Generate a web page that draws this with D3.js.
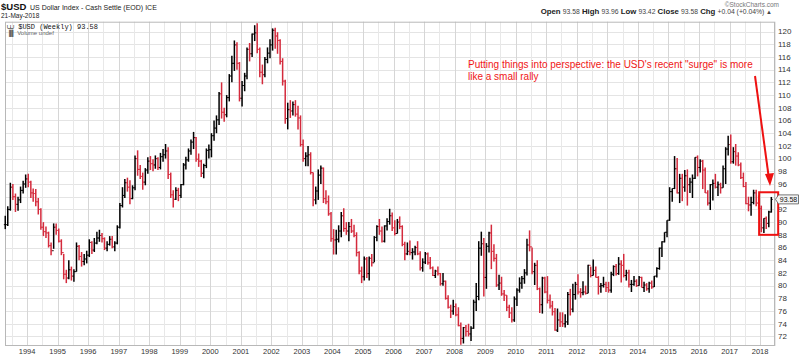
<!DOCTYPE html>
<html><head><meta charset="utf-8">
<script src="https://cdn.jsdelivr.net/npm/d3@7"></script>
<style>body{margin:0;background:#fff}svg{display:block}text{font-family:"Liberation Sans",Arial,sans-serif}</style>
</head><body>
<svg id="c" width="800" height="356"></svg>
<script>
// ---- data: monthly $USD (weekly chart condensed), Apr 1993 .. May 2018 ----
const firstYear = 1993, firstMonth = 3; // April 1993
const high = [
 91.0, 92.5, 96.2, 96.0, 94.5, 94.0, 95.6, 96.5, 97.5,
 97.6, 96.5, 95.3, 95.2, 93.8, 92.2, 90.0, 89.3, 88.5, 86.8, 89.8, 89.8,
 89.0, 87.3, 85.0, 82.5, 84.0, 83.0, 82.6, 86.8, 86.4, 85.3, 85.0, 85.5,
 87.3, 87.0, 87.5, 88.5, 88.8, 88.3, 87.6, 87.0, 87.8, 87.8, 87.0, 89.5,
 93.0, 95.5, 96.8, 97.0, 96.6, 95.8, 100.5, 101.3, 99.0, 97.8, 98.5, 100.2,
 100.4, 99.9, 100.5, 100.2, 100.9, 101.5, 102.3, 101.8, 97.8, 95.0, 95.5, 95.4,
 96.0, 99.3, 100.3, 101.6, 103.0, 104.2, 103.4, 100.8, 99.8, 99.2, 101.6, 102.2,
 104.0, 106.0, 106.8, 110.5, 112.0, 108.0, 110.0, 113.3, 116.2, 118.6, 118.3, 115.2,
 112.2, 113.5, 117.5, 118.2, 119.7, 121.0, 121.3, 117.5, 114.8, 116.0, 117.5, 118.8,
 120.5, 120.6, 119.9, 118.8, 115.8, 112.4, 108.8, 109.2, 109.0, 109.2, 108.3, 106.8,
 103.0, 101.0, 102.0, 101.0, 97.8, 95.6, 98.3, 98.9, 98.6, 95.0, 94.2, 91.6,
 88.9, 88.8, 89.5, 91.6, 92.2, 90.0, 90.0, 90.5, 89.6, 88.4, 85.4, 83.0,
 84.6, 84.5, 84.6, 85.0, 87.8, 89.5, 90.5, 89.3, 89.5, 90.6, 92.1, 91.5,
 90.3, 90.5, 90.9, 89.5, 86.9, 86.8, 87.1, 85.9, 86.3, 87.0, 85.4, 84.3,
 85.3, 85.2, 84.5, 83.0, 82.5, 83.0, 82.0, 82.0, 80.8, 78.5, 77.0, 77.8,
 77.2, 76.6, 74.2, 73.5, 73.8, 74.0, 73.6, 77.8, 80.4, 87.0, 88.5, 87.5,
 86.7, 88.5, 89.6, 86.5, 85.0, 81.7, 81.4, 79.3, 78.5, 77.0, 76.6, 78.3,
 79.6, 81.3, 81.5, 82.6, 87.4, 88.7, 86.0, 83.6, 84.0, 79.7, 81.4, 81.4,
 81.5, 78.6, 77.6, 76.5, 76.4, 75.8, 75.8, 75.5, 79.0, 79.5, 80.3, 80.6,
 81.8, 79.6, 80.7, 80.0, 83.3, 83.0, 84.1, 83.0, 81.5, 80.4, 81.4, 80.6,
 80.6, 82.2, 83.2, 83.4, 84.5, 84.0, 85.0, 82.5, 82.5, 80.9, 81.5, 81.0,
 81.5, 81.4, 80.6, 80.4, 80.6, 80.8, 81.5, 82.9, 86.0, 87.0, 88.4, 90.3,
 95.5, 95.3, 100.4, 100.1, 97.6, 97.6, 98.2, 98.3, 97.0, 97.5, 100.2, 100.5,
 99.9, 99.8, 98.6, 95.0, 96.0, 96.7, 97.6, 96.4, 96.2, 98.9, 101.8, 103.6,
 103.8, 101.8, 102.3, 101.0, 99.4, 97.8, 96.3, 94.0, 94.0, 95.1, 95.1, 94.2,
 92.6, 90.6, 90.9, 91.8, 93.96
];
const low = [
 88.9, 89.4, 91.8, 93.5, 91.6, 91.8, 93.0, 94.5, 95.4,
 95.5, 93.8, 93.2, 92.5, 91.2, 88.8, 87.8, 87.5, 86.0, 84.8, 85.8, 88.0,
 86.8, 84.8, 81.0, 80.4, 81.0, 80.8, 80.6, 82.2, 84.0, 83.0, 83.2, 83.5,
 84.5, 85.0, 85.3, 86.5, 86.9, 86.8, 85.6, 85.4, 86.3, 85.9, 85.4, 86.5,
 89.0, 92.3, 93.8, 94.8, 92.8, 93.6, 95.0, 97.3, 96.8, 95.1, 95.8, 97.6,
 98.2, 98.0, 98.4, 98.2, 98.3, 99.5, 100.0, 96.8, 93.8, 92.3, 93.5, 93.3,
 93.8, 95.8, 98.3, 99.5, 100.6, 101.5, 99.5, 98.7, 97.1, 96.9, 98.5, 100.0,
 100.2, 102.8, 104.0, 105.3, 106.3, 105.8, 106.5, 109.0, 112.0, 113.8, 114.0, 109.0,
 108.2, 110.6, 112.5, 115.3, 116.0, 118.5, 116.6, 112.8, 111.7, 112.8, 115.0, 115.8,
 117.0, 117.3, 116.5, 114.8, 111.5, 105.5, 104.6, 106.4, 106.8, 106.6, 104.6, 101.9,
 99.5, 98.8, 98.8, 97.5, 92.5, 92.8, 93.5, 96.0, 93.0, 92.8, 91.0, 86.9,
 84.9, 84.9, 86.8, 87.6, 88.5, 88.0, 87.0, 88.3, 87.6, 84.6, 81.8, 80.4,
 80.8, 81.2, 80.8, 83.0, 83.7, 87.0, 88.0, 86.8, 86.8, 88.7, 89.6, 88.6,
 87.9, 88.2, 88.9, 86.2, 84.0, 84.8, 84.8, 84.1, 84.8, 84.8, 82.4, 82.2,
 83.4, 83.3, 82.6, 81.5, 81.2, 81.6, 80.0, 80.0, 77.8, 76.4, 74.9, 75.4,
 75.2, 73.6, 70.7, 70.9, 72.0, 72.0, 71.3, 73.2, 76.0, 77.7, 84.7, 78.3,
 79.5, 85.2, 82.6, 83.8, 79.8, 79.3, 78.4, 77.6, 76.0, 74.9, 74.2, 74.3,
 76.8, 78.9, 79.5, 80.3, 81.6, 85.4, 81.8, 80.1, 79.3, 75.7, 75.6, 78.8,
 77.2, 76.4, 75.3, 72.9, 72.7, 73.5, 73.5, 73.4, 73.8, 75.3, 75.8, 77.8,
 78.6, 78.1, 78.5, 78.6, 78.8, 81.3, 81.6, 81.3, 78.6, 78.9, 79.7, 79.0,
 78.9, 78.9, 81.5, 81.6, 81.7, 80.5, 81.3, 80.8, 79.7, 79.0, 80.0, 79.8,
 80.0, 79.7, 79.0, 79.2, 78.9, 79.5, 79.8, 81.3, 82.5, 84.5, 86.8, 87.6,
 90.2, 93.2, 95.2, 94.5, 93.0, 93.3, 94.8, 92.6, 94.6, 93.8, 96.8, 97.2,
 97.8, 95.2, 94.6, 92.6, 91.9, 93.4, 95.3, 94.1, 94.5, 95.4, 96.0, 100.5,
 99.2, 99.2, 98.9, 98.8, 96.8, 95.5, 92.8, 91.7, 91.0, 92.8, 92.5, 92.0,
 88.4, 88.3, 88.9, 89.2, 91.5
];
const close = [
 89.6, 92.0, 95.5, 94.0, 92.8, 93.5, 95.0, 96.0, 96.8,
 96.3, 94.6, 94.5, 93.2, 92.0, 89.2, 88.5, 88.3, 86.3, 85.5, 89.2, 88.7,
 87.0, 85.2, 81.8, 81.2, 82.5, 81.5, 82.2, 86.2, 84.6, 83.8, 84.2, 84.8,
 86.8, 85.6, 86.7, 87.5, 87.9, 87.4, 85.9, 86.5, 87.3, 86.1, 86.7, 89.2,
 92.6, 94.2, 96.2, 95.5, 93.7, 95.4, 100.0, 98.3, 97.2, 96.3, 98.2, 99.6,
 99.2, 99.0, 100.0, 98.6, 100.3, 100.6, 101.2, 97.5, 94.3, 93.6, 95.0, 94.2,
 95.9, 99.0, 99.8, 101.2, 102.6, 103.3, 99.9, 99.6, 97.7, 98.9, 101.3, 101.4,
 103.6, 104.8, 106.1, 110.2, 107.3, 106.9, 109.6, 113.0, 115.0, 117.9, 115.0, 109.5,
 111.5, 113.0, 117.2, 116.5, 119.6, 119.8, 117.2, 113.6, 113.2, 115.6, 116.6, 117.9,
 120.2, 119.3, 118.6, 115.3, 112.2, 106.3, 107.7, 107.5, 108.5, 107.0, 106.4, 102.2,
 100.0, 100.4, 100.6, 97.8, 93.5, 94.9, 97.4, 98.5, 93.7, 93.2, 91.3, 87.4,
 87.2, 87.3, 88.6, 91.0, 89.0, 88.6, 89.3, 88.6, 87.9, 85.2, 82.3, 81.4,
 84.2, 81.9, 84.3, 83.6, 87.6, 89.3, 88.6, 87.0, 89.4, 90.1, 91.0, 89.1,
 88.2, 90.0, 89.3, 86.5, 85.0, 85.4, 85.2, 85.3, 86.0, 85.0, 82.8, 83.7,
 85.0, 83.6, 82.8, 81.6, 82.3, 81.9, 80.3, 80.7, 78.0, 76.6, 76.0, 76.7,
 75.4, 73.7, 71.7, 73.4, 72.8, 72.4, 73.3, 77.4, 78.3, 85.9, 86.6, 81.3,
 86.2, 88.3, 85.4, 84.3, 80.1, 80.4, 78.7, 78.5, 76.6, 75.7, 74.6, 77.9,
 79.3, 80.4, 81.1, 82.0, 86.4, 86.1, 82.2, 83.2, 79.5, 77.0, 81.2, 79.0,
 77.7, 76.8, 75.9, 73.0, 74.6, 74.3, 74.0, 74.3, 78.6, 76.3, 78.6, 80.2,
 79.0, 78.9, 79.0, 78.8, 83.2, 81.6, 82.4, 81.3, 79.9, 80.0, 80.2, 79.7,
 79.3, 81.8, 83.0, 81.9, 83.4, 83.2, 81.6, 82.0, 80.2, 80.2, 80.7, 80.0,
 81.3, 79.7, 80.1, 79.5, 80.4, 79.8, 81.5, 82.7, 85.9, 86.9, 88.4, 90.3,
 94.8, 95.3, 98.4, 94.6, 96.9, 95.5, 97.3, 95.9, 96.3, 96.9, 100.2, 98.6,
 99.6, 98.2, 94.6, 93.0, 95.9, 96.1, 95.5, 95.9, 95.4, 98.4, 101.5, 102.2,
 99.5, 101.1, 100.4, 99.0, 97.0, 95.6, 92.9, 92.7, 93.1, 94.6, 93.0, 92.1,
 89.1, 90.6, 89.8, 91.6, 93.58
];
const yTicks = [72,74,76,78,80,82,84,86,88,90,92,94,96,98,100,102,104,106,108,110,112,114,116,118,120];
const yearLabels = [1994,1995,1996,1997,1998,1999,2000,2001,2002,2003,2004,2005,2006,2007,2008,2009,2010,2011,2012,2013,2014,2015,2016,2017,2018];
const lastValue = 93.58;
const headerTitle = "US Dollar Index - Cash Settle (EOD) ICE";
const headerDate = "21-May-2018";
const ohlcLabels = [["Open","93.58"],["High","93.96"],["Low","93.42"],["Close","93.58"],["Chg","+0.04 (+0.04%)"]];
const note = ["Putting things into perspective: the USD's recent \"surge\" is more", "like a small rally"];

// ---- layout ----
const L = 5, R = 775, T = 21.7, B = 346;
const svg = d3.select("#c");
const x = d3.scaleTime().domain([new Date(1993,3,12), new Date(2018,5,28)]).range([L, R]);
const y = d3.scaleLinear().domain([70.5, 121.55]).range([B, T]);

const bars = high.map((h,i)=>{
  const d = new Date(firstYear, firstMonth + i, 15);
  const open = i>0 ? close[i-1] : close[i];
  return {d, h, l: low[i], c: close[i], o: open};
});

// grid
const g = svg.append("g");
g.selectAll("line.h").data(yTicks).join("line")
  .attr("x1", L).attr("x2", R).attr("y1", d=>Math.round(y(d))+0.5).attr("y2", d=>Math.round(y(d))+0.5)
  .attr("stroke", "#e4e4e4").attr("stroke-width", 1);
const halfYears = d3.timeMonth.every(6).range(new Date(1993,6,1), new Date(2018,6,2));
g.selectAll("line.v").data(halfYears).join("line")
  .attr("x1", d=>Math.round(x(d))+0.5).attr("x2", d=>Math.round(x(d))+0.5)
  .attr("y1", T).attr("y2", B)
  .attr("stroke", d=>d.getMonth()===0 ? "#d6d6d6" : "#e8e8e8").attr("stroke-width", 1);

// frame
svg.append("rect").attr("x", L+0.5).attr("y", T+0.5).attr("width", R-L-1).attr("height", B-T-1)
  .attr("fill", "none").attr("stroke", "#b8b8b8");

// OHLC bars
const bg = svg.append("g");
bars.forEach(b=>{
  const cx = x(b.d);
  const col = b.c >= b.o ? "#000" : "#d42a3c";
  bg.append("line").attr("x1", cx).attr("x2", cx).attr("y1", y(b.h)).attr("y2", y(b.l))
    .attr("stroke", col).attr("stroke-width", 1.5);
  bg.append("line").attr("x1", cx-1.4).attr("x2", cx).attr("y1", y(b.o)).attr("y2", y(b.o))
    .attr("stroke", col).attr("stroke-width", 1);
  bg.append("line").attr("x1", cx).attr("x2", cx+1.4).attr("y1", y(b.c)).attr("y2", y(b.c))
    .attr("stroke", col).attr("stroke-width", 1);
});

// y labels (the last-price tag covers the nearest label)
svg.append("g").selectAll("text").data(yTicks.filter(t=>Math.abs(t-lastValue)>1.2)).join("text")
  .attr("x", 778).attr("y", d=>y(d)).attr("dy", "0.35em")
  .attr("font-size", 8).attr("fill", "#333").text(d=>d);

// x labels
svg.append("g").selectAll("text").data(yearLabels).join("text")
  .attr("x", d=>x(new Date(d,0,1))).attr("y", 353.5).attr("text-anchor", "middle")
  .attr("font-size", 7.5).attr("fill", "#333").text(d=>d);

// header
svg.append("text").attr("x", 1).attr("y", 10).attr("font-size", 9.5).attr("font-weight", "bold").attr("fill", "#111").text("$USD");
svg.append("text").attr("x", 30).attr("y", 10).attr("font-size", 7).attr("fill", "#222").text(headerTitle);
svg.append("text").attr("x", 1).attr("y", 18).attr("font-size", 6.5).attr("fill", "#222").text(headerDate);
svg.append("text").attr("x", 779).attr("y", 7).attr("text-anchor", "end").attr("font-size", 6.5).attr("fill", "#777").text("\u00a9StockCharts.com");
const oh = svg.append("text").attr("x", 772).attr("y", 13.5).attr("text-anchor", "end").attr("fill", "#222");
ohlcLabels.forEach(([k,v],i)=>{
  oh.append("tspan").attr("font-weight","bold").attr("font-size",7.8).text((i?" ":"")+k+" ");
  oh.append("tspan").attr("font-size",6.8).attr("fill","#444").text(v);
});
oh.append("tspan").attr("font-size",6).attr("fill","#444").text(" \u25B2");

// legend in plot
svg.append("text").attr("x", 7).attr("y", 28.5).attr("font-size", 7).attr("fill", "#111")
  .style("font-family", "'Liberation Mono','DejaVu Sans Mono',monospace").text("\u2A4A $USD (Weekly) " + lastValue.toFixed(2));
svg.append("text").attr("x", 7).attr("y", 34.5).attr("font-size", 6).attr("fill", "#666").text("\u2590\u258C Volume undef");

// annotation
const ann = svg.append("text").attr("font-size", 10).attr("fill", "#f01616");
note.forEach((t,i)=>ann.append("tspan").attr("x", 468).attr("y", 68 + i*11.5).text(t));

// red box around recent move
const bx0 = x(new Date(2017,11,20)), bx1 = x(new Date(2018,7,5));
svg.append("rect").attr("x", bx0).attr("y", y(94.7)).attr("width", bx1-bx0).attr("height", y(88.0)-y(94.7))
  .attr("fill", "none").attr("stroke", "#ee1111").attr("stroke-width", 2);
// arrow
const ax0 = 755, ay0 = 76, ax1 = 770, ay1 = 186;
svg.append("line").attr("x1", ax0).attr("y1", ay0).attr("x2", 768.6).attr("y2", 176)
  .attr("stroke", "#ee1111").attr("stroke-width", 2);
svg.append("path").attr("d", `M${ax1},${ay1} L${765},${174} L${774},${173} Z`).attr("fill", "#ee1111");

// last price tag
const ly = y(lastValue);
svg.append("path").attr("d", `M775.5,${ly} L778.5,${ly-4.5} L798.5,${ly-4.5} L798.5,${ly+4.5} L778.5,${ly+4.5} Z`)
  .attr("fill", "#f4f4f4").attr("stroke", "#555").attr("stroke-width", 0.8);
svg.append("text").attr("x", 788.5).attr("y", ly).attr("dy", "0.35em").attr("text-anchor", "middle")
  .attr("font-size", 7).attr("fill", "#111").text(lastValue.toFixed(2));
</script>
</body></html>
